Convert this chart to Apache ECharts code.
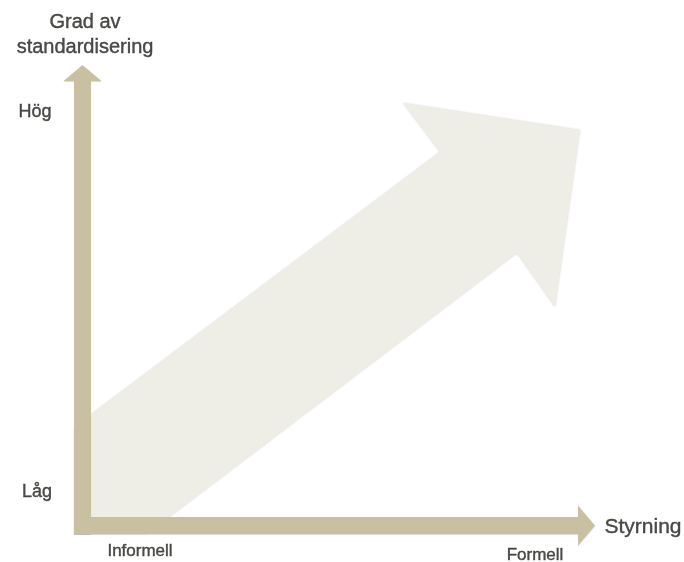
<!DOCTYPE html>
<html>
<head>
<meta charset="utf-8">
<script src="https://cdn.jsdelivr.net/npm/echarts@6/dist/echarts.min.js"></script>
<style>
  html, body { margin: 0; padding: 0; background: #fff; }
  #main { width: 684px; height: 562px; }
</style>
</head>
<body>
<div id="main"></div>
<script>
// shapes, in units measured from the corner where the two axes meet
var bigArrow = [[-8, 98.5], [357.5, 373.5], [320.5, 422.5], [497.5, 395.5], [472.5, 218.5], [434.5, 272.5], [65, -8], [-8, -8]];
var yArrow = [[-8.5, -8.5], [8.5, -8.5], [8.5, 444.5], [19, 444.5], [0, 460.5], [-19, 444.5], [-8.5, 444.5]];
var xArrow = [[-8.5, -8.5], [495.5, -8.5], [495.5, -20], [512.5, 0], [495.5, 20], [495.5, 8.5], [-8.5, 8.5]];

var labelTexts = ['Grad av\nstandardisering', 'Hög', 'Låg', 'Informell', 'Formell', 'Styrning'];
var labelPos = [[2.5, 491], [-47.5, 413.5], [-45.5, 33.5], [57.5, -25.5], [452.5, -29.5], [560.5, -1.5]];

var shapes = [bigArrow, yArrow, xArrow];
var shapeFill = ['#eeede6', '#c8c0a0', '#c8c0a0'];
var labelSize = [20, 18, 18, 17, 17, 21];

var chart = echarts.init(document.getElementById('main'));

var option = {
    animation: false,
    grid: { left: 0, right: 0, top: 0, bottom: 0 },
    xAxis: { type: 'value', min: -82.5, max: 601.5, show: false },
    yAxis: { type: 'value', min: -36.5, max: 525.5, show: false },
    series: [
        {
            type: 'custom',
            clip: false,
            data: shapes.map(function (s, i) { return [i]; }),
            renderItem: function (params, api) {
                var i = params.dataIndex;
                var pts = shapes[i].map(function (p) { return api.coord(p); });
                return {
                    type: 'polygon',
                    shape: { points: pts },
                    style: {
                        fill: shapeFill[i],
                        shadowBlur: i === 0 ? 2 : 1,
                        shadowColor: i === 0 ? 'rgba(0,0,0,0.18)' : 'rgba(0,0,0,0.15)',
                        shadowOffsetY: i === 0 ? 0 : 1
                    }
                };
            }
        },
        {
            type: 'scatter',
            symbolSize: 0,
            silent: true,
            data: labelTexts.map(function (t, i) {
                return {
                    name: t,
                    value: labelPos[i],
                    label: {
                        show: true,
                        position: 'inside',
                        formatter: '{b}',
                        fontFamily: 'Liberation Sans, Arial, sans-serif',
                        fontSize: labelSize[i],
                        lineHeight: 25,
                        color: '#1f1f1b',
                        textBorderColor: '#1f1f1b',
                        textBorderWidth: 0.4,
                        align: 'center',
                        verticalAlign: 'middle'
                    }
                };
            })
        }
    ]
};

chart.setOption(option);
</script>
</body>
</html>
